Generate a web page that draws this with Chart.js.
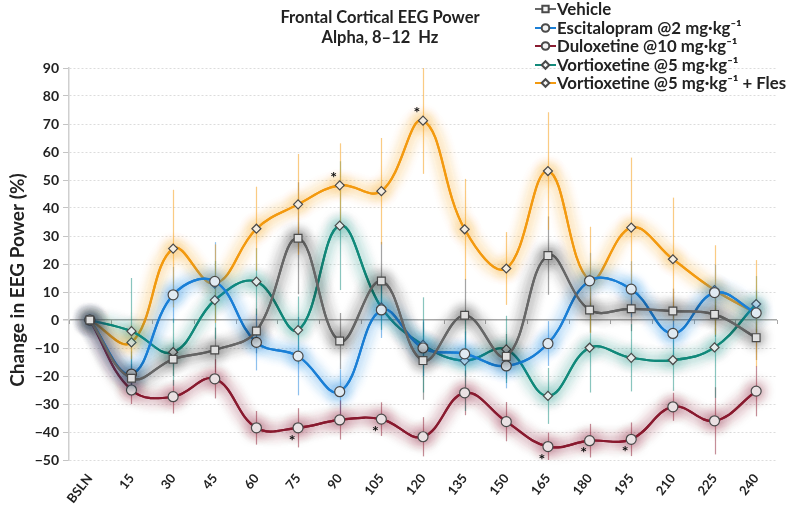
<!DOCTYPE html>
<html>
<head>
<meta charset="utf-8">
<title>Frontal Cortical EEG Power</title>
<script src="https://cdn.jsdelivr.net/npm/chart.js@4/dist/chart.umd.min.js"></script>
<style>
  html, body { margin: 0; padding: 0; background: #fff; }
  #wrap { width: 800px; height: 507px; position: relative; }
</style>
</head>
<body>
<div id="wrap"><canvas id="eegChart"></canvas></div>
<script>
// time points (min)
const timeLabels = ['BSLN', '15', '30', '45', '60', '75', '90', '105', '120', '135', '150', '165', '180', '195', '210', '225', '240'];
const yTicks = { min: -50, max: 90, step: 10 };

// mean change in EEG power (%)
const vehicle      = [0, -20.8, -14, -10.7, -3.9, 29.2, -7.5, 13.9, -14.5, 1.7, -13, 23, 3.6, 4, 3.2, 2, -6.3];
const escitalopram = [0, -19.3, 9, 13.8, -8, -12.9, -25.6, 3.6, -10, -12.1, -16.4, -8.4, 14, 11, -4.8, 9.8, 2.5];
const duloxetine   = [0, -25, -27.4, -21, -38.5, -38.5, -35.7, -35.4, -41.7, -26, -36.3, -45.2, -43.1, -42.6, -31, -36, -25.4];
const vortioxetine = [0, -4, -11.5, 7.1, 13.7, -3.6, 33.7, 4.5, -8.9, -14.5, -10.5, -27.1, -9.9, -13.5, -14.3, -9.8, 5.7];
const vortFles     = [0, -8, 25.5, 13, 32.6, 41.3, 48.1, 46, 71.2, 32.4, 18.4, 53.2, 14.3, 33, 21.7, 10.7, 2.4];

// error bars (+/-)
const vehicleErr = [0, 5, 6, 8, 8, 20, 10, 14, 14, 13, 8, 14, 8, 8, 8, 8, 8];
const escErr     = [0, 8, 10, 14, 10, 14, 8, 10, 10, 8, 8, 8, 10, 10, 8, 10, 8];
const duloxErr   = [0, 5, 6, 7, 6, 7, 7, 6, 7, 8, 7, 5, 6, 6, 5, 12, 9];
const vortErr    = [0, 19, 12, 14, 12, 12, 23, 8, 17, 18, 12, 10, 16, 12, 11, 18, 10];
const flesErr    = [0, 6, 21, 14, 15, 18, 15, 19, 19, 18, 13, 21, 19, 25, 22, 16, 19];

// significance asterisks: which time point, value where the star sits
const starIndex  = [6, 8, 5, 7, 11, 12, 13];
const starValue  = [52, 75, -42, -39, -49, -46.5, -46];

const FONT = 'Lato, "Open Sans", "Liberation Sans", sans-serif';

function makeSet(label, data, errors, color, glow, errColor, style, radius) {
  return {
    label: label,
    data: data,
    errors: errors,
    glowColor: glow,
    errColor: errColor,
    borderColor: color,
    borderWidth: 2.2,
    tension: 0.4,
    fill: false,
    pointStyle: style,
    pointRadius: radius,
    pointBackgroundColor: '#f4f4f4',
    pointBorderColor: '#4a4a4a',
    pointBorderWidth: 1.2
  };
}

const datasets = [
  makeSet('Vehicle', vehicle, vehicleErr, '#676767', 'rgba(30,30,30,0.9)', 'rgba(90,90,90,0.55)', 'rect', 5.5),
  makeSet('Escitalopram @2 mg\u00b7kg\u207b\u00b9', escitalopram, escErr, '#1b7fd6', 'rgba(30,135,225,0.95)', 'rgba(30,130,220,0.5)', 'circle', 5),
  makeSet('Duloxetine @10 mg\u00b7kg\u207b\u00b9', duloxetine, duloxErr, '#8a1b30', 'rgba(135,25,50,0.9)', 'rgba(140,30,50,0.5)', 'circle', 5),
  makeSet('Vortioxetine @5 mg\u00b7kg\u207b\u00b9', vortioxetine, vortErr, '#128a7b', 'rgba(20,140,125,0.9)', 'rgba(20,140,125,0.5)', 'rectRot', 4.5),
  makeSet('Vortioxetine @5 mg\u00b7kg\u207b\u00b9 + Fles', vortFles, flesErr, '#f39a10', 'rgba(245,160,20,0.95)', 'rgba(245,160,30,0.55)', 'rectRot', 4.5)
];

// soft halo round each line: one extra blurred pass, then the normal draw keeps the shadow
const glowPlugin = {
  id: 'glow',
  beforeDatasetDraw(chart, args) {
    const ds = chart.data.datasets[args.index];
    const ctx = chart.ctx;
    ctx.save();
    ctx.shadowColor = ds.glowColor;
    ctx.shadowBlur = 14;
    args.meta.dataset.draw(ctx, chart.chartArea);
  },
  afterDatasetDraw(chart) {
    chart.ctx.restore();
  }
};

// error bars, zero-line ticks, texts
const extrasPlugin = {
  id: 'extras',
  beforeDatasetsDraw(chart) {
    const ctx = chart.ctx;
    const x = chart.scales.x;
    const y = chart.scales.y;
    ctx.save();
    // small ticks on the zero line between categories
    const y0 = y.getPixelForValue(0);
    const step = x.getPixelForValue(1) - x.getPixelForValue(0);
    ctx.strokeStyle = '#a8a8a8';
    ctx.lineWidth = 1;
    for (let i = 0; i <= timeLabels.length; i++) {
      const px = Math.round(x.getPixelForValue(i) - step / 2) + 0.5;
      ctx.beginPath();
      ctx.moveTo(px, y0);
      ctx.lineTo(px, y0 + 4);
      ctx.stroke();
    }
    // error bars
    chart.data.datasets.forEach(ds => {
      ctx.strokeStyle = ds.errColor;
      ctx.lineWidth = 1.2;
      ds.data.forEach((v, i) => {
        const e = ds.errors[i];
        if (!e) return;
        const px = Math.round(x.getPixelForValue(i)) + 0.5;
        ctx.beginPath();
        ctx.moveTo(px, y.getPixelForValue(Math.min(v + e, yTicks.max)));
        ctx.lineTo(px, y.getPixelForValue(Math.max(v - e, yTicks.min)));
        ctx.stroke();
      });
    });
    ctx.restore();
  },
  afterDraw(chart) {
    const ctx = chart.ctx;
    const x = chart.scales.x;
    const y = chart.scales.y;
    ctx.save();

    // asterisks
    ctx.fillStyle = '#111';
    ctx.font = 'bold 16px ' + FONT;
    ctx.textAlign = 'center';
    ctx.textBaseline = 'middle';
    starIndex.forEach((idx, k) => {
      ctx.fillText('*', x.getPixelForValue(idx) - 6, y.getPixelForValue(starValue[k]) + 3);
    });

    // title
    ctx.fillStyle = '#222';
    ctx.font = 'bold 16.5px ' + FONT;
    ctx.fillText('Frontal Cortical EEG Power', 380, 18);
    ctx.fillText('Alpha, 8\u201312  Hz', 380, 38);

    // y axis title
    ctx.save();
    ctx.translate(18, 280);
    ctx.rotate(-Math.PI / 2);
    ctx.font = 'bold 19px ' + FONT;
    ctx.fillText('Change in EEG Power (%)', 0, 0);
    ctx.restore();

    // legend
    const rows = [9, 28, 46, 65, 83];
    ctx.textAlign = 'left';
    chart.data.datasets.forEach((ds, i) => {
      const ly = rows[i];
      ctx.strokeStyle = ds.borderColor;
      ctx.lineWidth = 2;
      ctx.beginPath();
      ctx.moveTo(535, ly);
      ctx.lineTo(556, ly);
      ctx.stroke();
      ctx.fillStyle = '#f4f4f4';
      ctx.strokeStyle = '#4a4a4a';
      Chart.helpers.drawPoint(ctx, {
        pointStyle: ds.pointStyle,
        radius: ds.pointStyle === 'rect' ? 4.5 : 3.8,
        borderWidth: 1
      }, 545.5, ly);
      ctx.fillStyle = '#222';
      ctx.font = 'bold 16.8px ' + FONT;
      ctx.fillText(ds.label, 557, ly + 1);
    });
    ctx.restore();
  }
};

new Chart(document.getElementById('eegChart'), {
  type: 'line',
  data: { labels: timeLabels, datasets: datasets },
  options: {
    responsive: true,
    maintainAspectRatio: false,
    animation: false,
    layout: { padding: { top: 68, right: 23, left: 0, bottom: 0 } },
    plugins: {
      legend: { display: false },
      title: { display: false },
      tooltip: { enabled: false }
    },
    scales: {
      x: {
        offset: true,
        grid: { display: false },
        border: { display: false },
        ticks: {
          color: '#222',
          font: { family: FONT, size: 13, weight: 'bold' },
          minRotation: 52,
          maxRotation: 52,
          autoSkip: false,
          padding: 3
        },
        afterFit(scale) { scale.height = 47; }
      },
      y: {
        min: yTicks.min,
        max: yTicks.max,
        ticks: {
          stepSize: yTicks.step,
          color: '#222',
          padding: 4,
          font: { family: FONT, size: 14, weight: 'bold' },
          callback: v => String(v).replace('-', '\u2212')
        },
        grid: {
          color: ctx => (ctx.tick && ctx.tick.value === 0) ? '#a9a9a9' : '#dcdcdc',
          lineWidth: ctx => (ctx.tick && ctx.tick.value === 0) ? 1.5 : 1,
          tickLength: 6,
          tickColor: '#c4c4c4',
          tickBorderDash: []
        },
        border: {
          display: true,
          color: '#cfcfcf',
          width: 1.5,
          dash: ctx => (ctx.tick && ctx.tick.value !== 0) ? [2, 2] : []
        },
        afterFit(scale) { scale.width = 69; }
      }
    }
  },
  plugins: [glowPlugin, extrasPlugin]
});
</script>
</body>
</html>
